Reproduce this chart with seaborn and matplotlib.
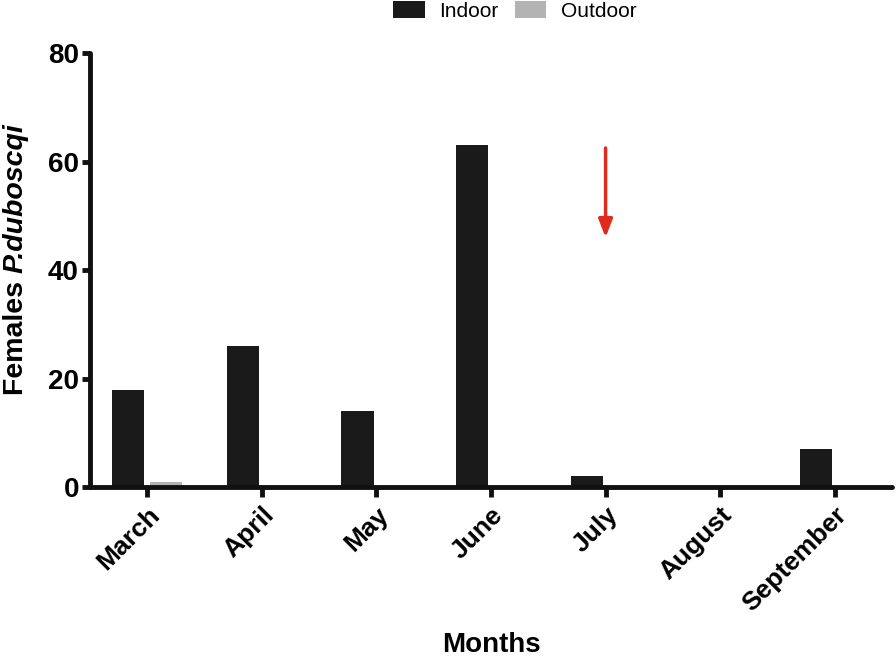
import matplotlib
matplotlib.use('Agg')
import matplotlib.pyplot as plt
import pandas as pd
import seaborn as sns

# Dados
months = ['March', 'April', 'May', 'June', 'July', 'August', 'September']
indoor = [18, 26, 14, 63, 2, 0, 7]
outdoor = [1, 0, 0, 0, 0, 0, 0]
y_ticks = [0, 20, 40, 60, 80]
arrow_month = 'July'
arrow_from, arrow_to = 63, 45.5

sns.set_theme(style='white')
plt.rcParams['font.family'] = ['Liberation Sans', 'DejaVu Sans']
plt.rcParams['text.color'] = 'black'
plt.rcParams['axes.labelcolor'] = 'black'
plt.rcParams['xtick.color'] = 'black'
plt.rcParams['ytick.color'] = 'black'

df = pd.DataFrame({
    'Month': months * 2,
    'Count': indoor + outdoor,
    'Place': ['Indoor'] * len(months) + ['Outdoor'] * len(months),
})

fig = plt.figure(figsize=(8.96, 6.62), dpi=100)
ax = fig.add_axes([0.1005, 0.264, 0.895, 0.656])

sns.barplot(data=df, x='Month', y='Count', hue='Place', order=months,
            palette={'Indoor': '#1a1a1a', 'Outdoor': '#b3b3b3'},
            width=0.66, gap=0.15, edgecolor='none', ax=ax)

ax.set_xlim(-0.5, len(months) - 0.5)
ax.set_ylim(0, 80)
ax.set_yticks(y_ticks)
for side in ['top', 'right']:
    ax.spines[side].set_visible(False)
for side in ['left', 'bottom']:
    ax.spines[side].set_linewidth(3.5)
    ax.spines[side].set_color('#111111')
    ax.spines[side].set_capstyle('round')

ax.tick_params(axis='y', direction='out', length=6, width=3.5, color='#111111',
               labelsize=20, pad=2, left=True)
ax.tick_params(axis='x', direction='out', length=7, width=3.5, color='#111111',
               labelsize=19, pad=4, bottom=True)
for lab in ax.get_yticklabels():
    lab.set_fontweight('bold')
for lab in ax.get_xticklabels():
    lab.set_fontweight('bold')
    lab.set_rotation(45)
    lab.set_ha('right')
    lab.set_rotation_mode('anchor')

ax.set_xlabel('Months', fontsize=20, fontweight='bold', labelpad=12)
ax.set_ylabel('')

# Rótulo do eixo y: parte normal + nome da espécie em itálico
lbl_x = 16 / 896
t1 = fig.text(lbl_x, 1 - 395 / 662, 'Females ', rotation=90, fontsize=20.5,
              fontweight='bold', ha='center', va='bottom')
fig.canvas.draw()
bb = t1.get_window_extent()
fig.text(lbl_x, bb.y1 / fig.bbox.height, 'P.duboscqi', rotation=90, fontsize=20.5,
         fontweight='bold', fontstyle='italic', ha='center', va='bottom')

# Seta vermelha sobre julho
xa = months.index(arrow_month)
ax.annotate('', xy=(xa, arrow_to), xytext=(xa, arrow_from),
            arrowprops=dict(arrowstyle='-|>,head_length=0.9,head_width=0.35',
                            color='#e02a1c', lw=2.5))

ax.legend(title=None, loc='center', bbox_to_anchor=(515 / 896, 1 - 11 / 662),
          bbox_transform=fig.transFigure, ncol=2, frameon=False, fontsize=15,
          handlelength=1.5, handleheight=0.87, handletextpad=0.7,
          columnspacing=0.8, borderaxespad=0)

fig.savefig('out.png', dpi=100)
